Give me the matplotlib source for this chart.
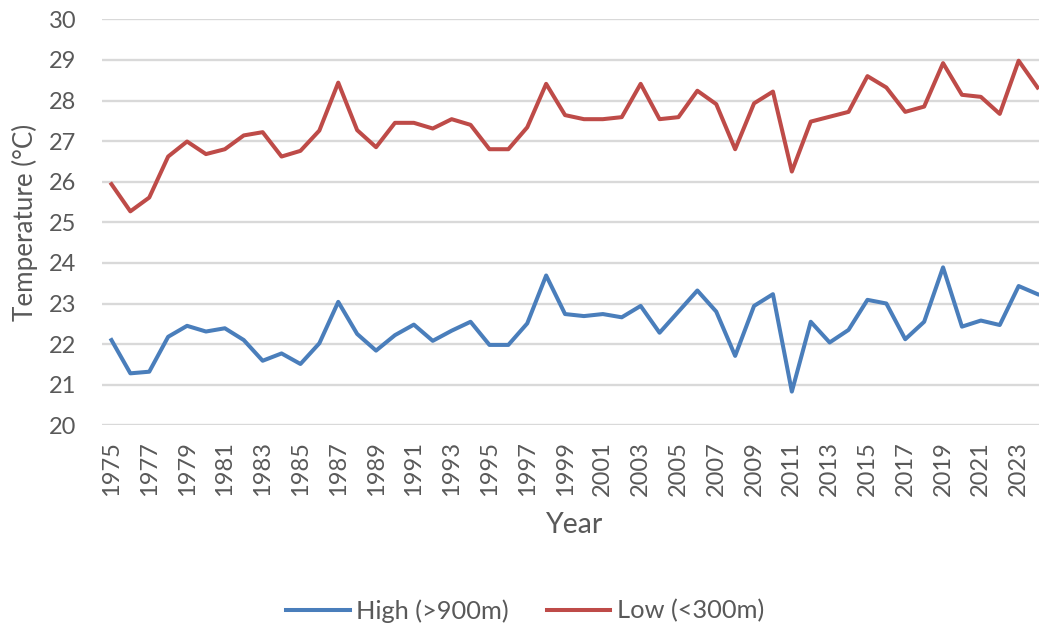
import matplotlib
matplotlib.use("Agg")
import matplotlib.pyplot as plt

years = list(range(1975, 2025))
high = [22.10, 21.28, 21.32, 22.18, 22.45, 22.31, 22.39, 22.10, 21.59, 21.77,
        21.51, 22.02, 23.04, 22.25, 21.84, 22.22, 22.48, 22.08, 22.33, 22.55,
        21.98, 21.98, 22.51, 23.69, 22.74, 22.69, 22.74, 22.66, 22.94, 22.28,
        22.80, 23.32, 22.80, 21.71, 22.94, 23.23, 20.83, 22.55, 22.04, 22.35,
        23.09, 23.00, 22.12, 22.55, 23.89, 22.43, 22.58, 22.47, 23.43, 23.23]
low = [25.94, 25.27, 25.61, 26.62, 26.99, 26.68, 26.80, 27.14, 27.22, 26.62,
       26.76, 27.26, 28.44, 27.27, 26.85, 27.45, 27.45, 27.31, 27.54, 27.40,
       26.80, 26.80, 27.34, 28.41, 27.64, 27.54, 27.54, 27.59, 28.41, 27.54,
       27.59, 28.24, 27.91, 26.80, 27.93, 28.22, 26.25, 27.48, 27.60, 27.72,
       28.60, 28.32, 27.72, 27.85, 28.92, 28.14, 28.09, 27.67, 28.98, 28.32]
series_names = ["High (>900m)", "Low (<300m)"]
yticks = list(range(20, 31))
xtick_years = years[::2]

plt.rcParams['font.family'] = ['Lato', 'DejaVu Sans']
grey = '#595959'

fig = plt.figure(figsize=(10.39, 6.27), dpi=100)
ax = fig.add_axes([102/1039, 1-425.3/627, 945/1039, (425.3-19.3)/627])

ax.plot(years, high, color='#4A7EBB', lw=2.9, label=series_names[0], solid_joinstyle='round')
ax.plot(years, low, color='#BE4B48', lw=2.9, label=series_names[1], solid_joinstyle='round')

ax.set_xlim(1974.5, 2024.5)
ax.set_ylim(20, 30)
ax.set_yticks(yticks)
ax.set_xticks(xtick_years)
ax.set_xticklabels([str(y) for y in xtick_years], rotation=90, fontsize=17, color=grey)
ax.set_yticklabels([str(v) for v in yticks], fontsize=17, color=grey)
ax.tick_params(axis='y', length=0, pad=18.5)
ax.tick_params(axis='x', length=0, pad=11.5)
ax.grid(axis='y', color='#d9d9d9', lw=1.7)
ax.set_axisbelow(True)
for s in ax.spines.values():
    s.set_visible(False)

ax.set_xlabel('Year', fontsize=20.5, color=grey, labelpad=11)
ax.set_ylabel('Temperature (°C)', fontsize=18.7, color=grey, labelpad=8)

leg = fig.legend(loc='center', bbox_to_anchor=(525/1039, 1-611/627), ncol=2,
                 frameon=False, fontsize=18.3, handlelength=2.5, columnspacing=1.5,
                 handletextpad=0.25)
for t in leg.get_texts():
    t.set_color(grey)
for h in leg.get_lines():
    h.set_linewidth(2.9)

fig.savefig('out.png', dpi=100)
